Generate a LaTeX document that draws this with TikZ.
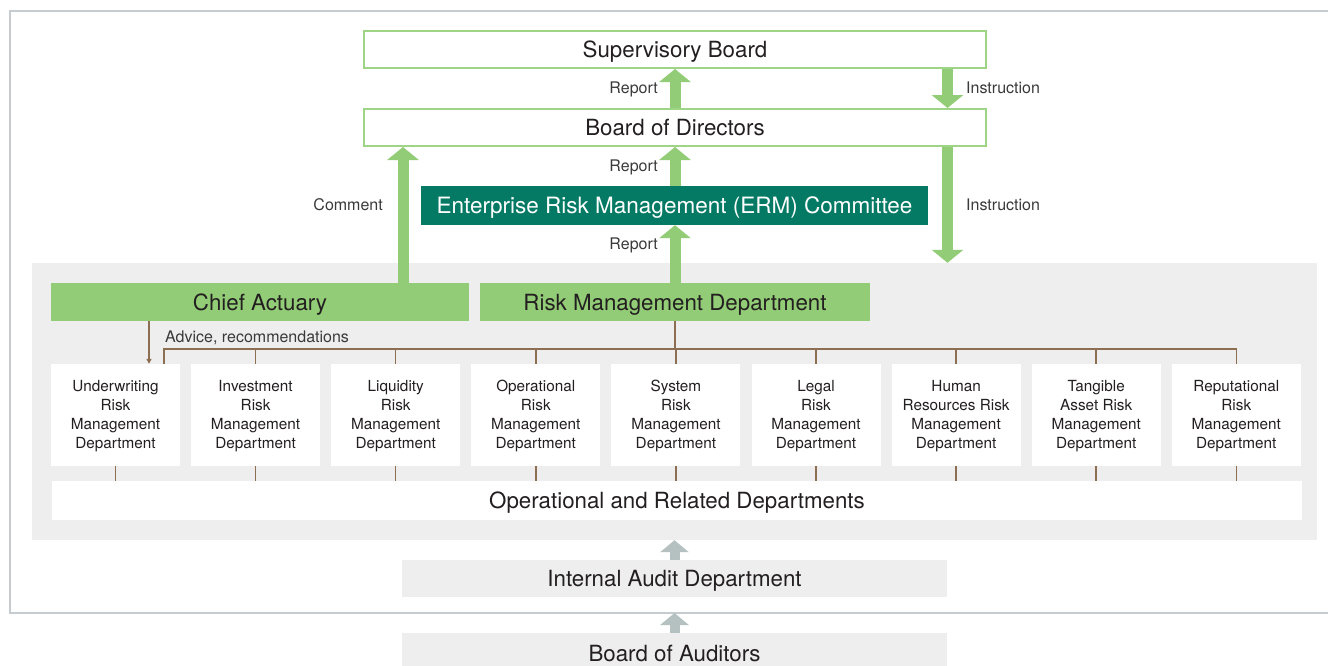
\documentclass[tikz,border=0pt]{standalone}
\usepackage{fontspec}
\setmainfont{TeX Gyre Heros}
\usetikzlibrary{arrows.meta,calc}
\definecolor{lgreen}{HTML}{92CC76}
\definecolor{oline}{HTML}{9ED486}
\definecolor{ermteal}{HTML}{047A65}
\definecolor{panelgray}{HTML}{EDEEED}
\definecolor{arrgray}{HTML}{B5C0C0}
\definecolor{brownc}{HTML}{8C6E52}
\definecolor{framec}{HTML}{C5CBCE}
\definecolor{txt}{HTML}{231F20}
\definecolor{lbltxt}{HTML}{3A3A3A}
\newcommand\fsBig{\fontsize{22.3}{26}\selectfont}
\newcommand\fsLbl{\fontsize{16}{19}\selectfont}
\newcommand\fsSmall{\fontsize{15.3}{19}\selectfont}
\begin{document}
\begin{tikzpicture}[x=1pt,y=-1pt,
  capc/.style={text height=#1, text depth=0pt},
  outlinebox/.style={draw=oline, line width=2pt, fill=white, text=txt, font=\fsBig, capc=16pt, inner sep=0pt, minimum width=622pt, minimum height=37pt},
  greenbox/.style={fill=lgreen, text=txt, font=\fsBig, capc=16pt, inner sep=0pt, minimum height=38pt},
  deptbox/.style={fill=white, inner sep=0pt, minimum width=129pt, minimum height=102pt},
  depttext/.style={text=txt, font=\fsSmall, align=center, inner sep=0pt},
  graybox/.style={fill=panelgray, text=txt, font=\fsBig, capc=16pt, inner sep=0pt, minimum width=545pt},
  lbl/.style={text=lbltxt, font=\fsLbl, capc=11.5pt, inner sep=0pt},
  garrow/.style={draw=lgreen, line width=11pt, -{Triangle[width=31pt,length=13pt]}},
  grarrow/.style={draw=arrgray, line width=10pt, -{Triangle[width=28pt,length=12pt]}},
  bline/.style={draw=brownc, line width=1.5pt}
]
\useasboundingbox (0,0) rectangle (1328,665);
\clip (0,0) rectangle (1328,665);
\fill[white] (0,0) rectangle (1328,665);
% outer frame
\draw[framec, line width=1.3pt] (1330,11) -- (10,11) -- (10,613) -- (1330,613);
\coordinate (fb) at (674.5,613);
% gray panel
\node[fill=panelgray, inner sep=0pt, minimum width=1285pt, minimum height=277pt] (panel) at (674.5,401.5) {};
% top boxes
\node[outlinebox] (sb) at (675,49.5) {Supervisory Board};
\node[outlinebox] (bod) at (675,127.5) {Board of Directors};
\node[fill=ermteal, text=white, font=\fontsize{22.5}{26}\selectfont, capc=16.2pt, inner sep=0pt, minimum width=507pt, minimum height=39pt] (erm) at (674.5,205.5) {Enterprise Risk Management (ERM) Committee};
\node[greenbox, minimum width=418pt] (ca) at (260,302) {Chief Actuary};
\node[greenbox, minimum width=390pt] (rmd) at (675,302) {Risk Management Department};
% departments
\foreach \i/\t in {1/{Underwriting\\Risk\\Management\\Department},
                   2/{Investment\\Risk\\Management\\Department},
                   3/{Liquidity\\Risk\\Management\\Department},
                   4/{Operational\\Risk\\Management\\Department},
                   5/{System\\Risk\\Management\\Department},
                   6/{Legal\\Risk\\Management\\Department},
                   7/{Human\\Resources Risk\\Management\\Department},
                   8/{Tangible\\Asset Risk\\Management\\Department},
                   9/{Reputational\\Risk\\Management\\Department}}
  {\node[deptbox] (d\i) at ({115.5+140.1*(\i-1)},415) {};
   \node[depttext] (t\i) at ($(d\i.center)+(0,1.2)$) {\t};}
\node[fill=white, text=txt, font=\fsBig, capc=16pt, inner sep=0pt, minimum width=1250pt, minimum height=39pt] (ops) at (677,500.5) {Operational and Related Departments};
\node[graybox, minimum height=37pt] (iad) at (674.5,578.5) {Internal Audit Department};
\node[graybox, minimum height=40pt] (boa) at (674.5,653) {Board of Auditors};
% arrow x positions
\coordinate (ix) at (947.5,0);
\coordinate (cx) at (403,0);
\coordinate (ax) at (149,0);
\coordinate (busl) at (164,349);
% green arrows
\draw[garrow] (bod.north) -- (sb.south);
\draw[garrow] (sb.south -| ix) -- (bod.north -| ix);
\draw[garrow] (erm.north -| bod.south) -- (bod.south);
\draw[garrow] (rmd.north) -- (erm.south -| rmd.north);
\draw[garrow] (ca.north -| cx) -- (bod.south -| cx);
\draw[garrow] (bod.south -| ix) -- (panel.north -| ix);
% gray arrows
\draw[grarrow] (iad.north) -- (panel.south -| iad.north);
\draw[grarrow] (boa.north) -- (fb);
% labels
\node[lbl, anchor=east] (rep1) at (658,88) {Report};
\node[lbl, anchor=east] (rep2) at (658,166) {Report};
\node[lbl, anchor=east] (rep3) at (658,244) {Report};
\node[lbl, anchor=west] (ins1) at (966,88) {Instruction};
\node[lbl, anchor=west] (ins2) at (966,205) {Instruction};
\node[lbl, anchor=east] (com) at (383,205) {Comment};
\node[lbl, anchor=west] (adv) at (165,337) {Advice, recommendations};
% brown connectors
\draw[bline, -{Triangle[length=5pt,width=5pt]}] (ca.south -| ax) -- (d1.north -| ax);
\draw[bline] (d1.north -| busl) -- (busl) -- (busl -| d9.north) -- (d9.north);
\foreach \i in {2,...,8} \draw[bline] (d\i.north) -- (busl -| d\i.north);
\draw[bline] (rmd.south) -- (busl -| rmd.south);
\foreach \i in {1,...,9} \draw[bline] (d\i.south) -- (ops.north -| d\i.south);
\end{tikzpicture}
\end{document}
